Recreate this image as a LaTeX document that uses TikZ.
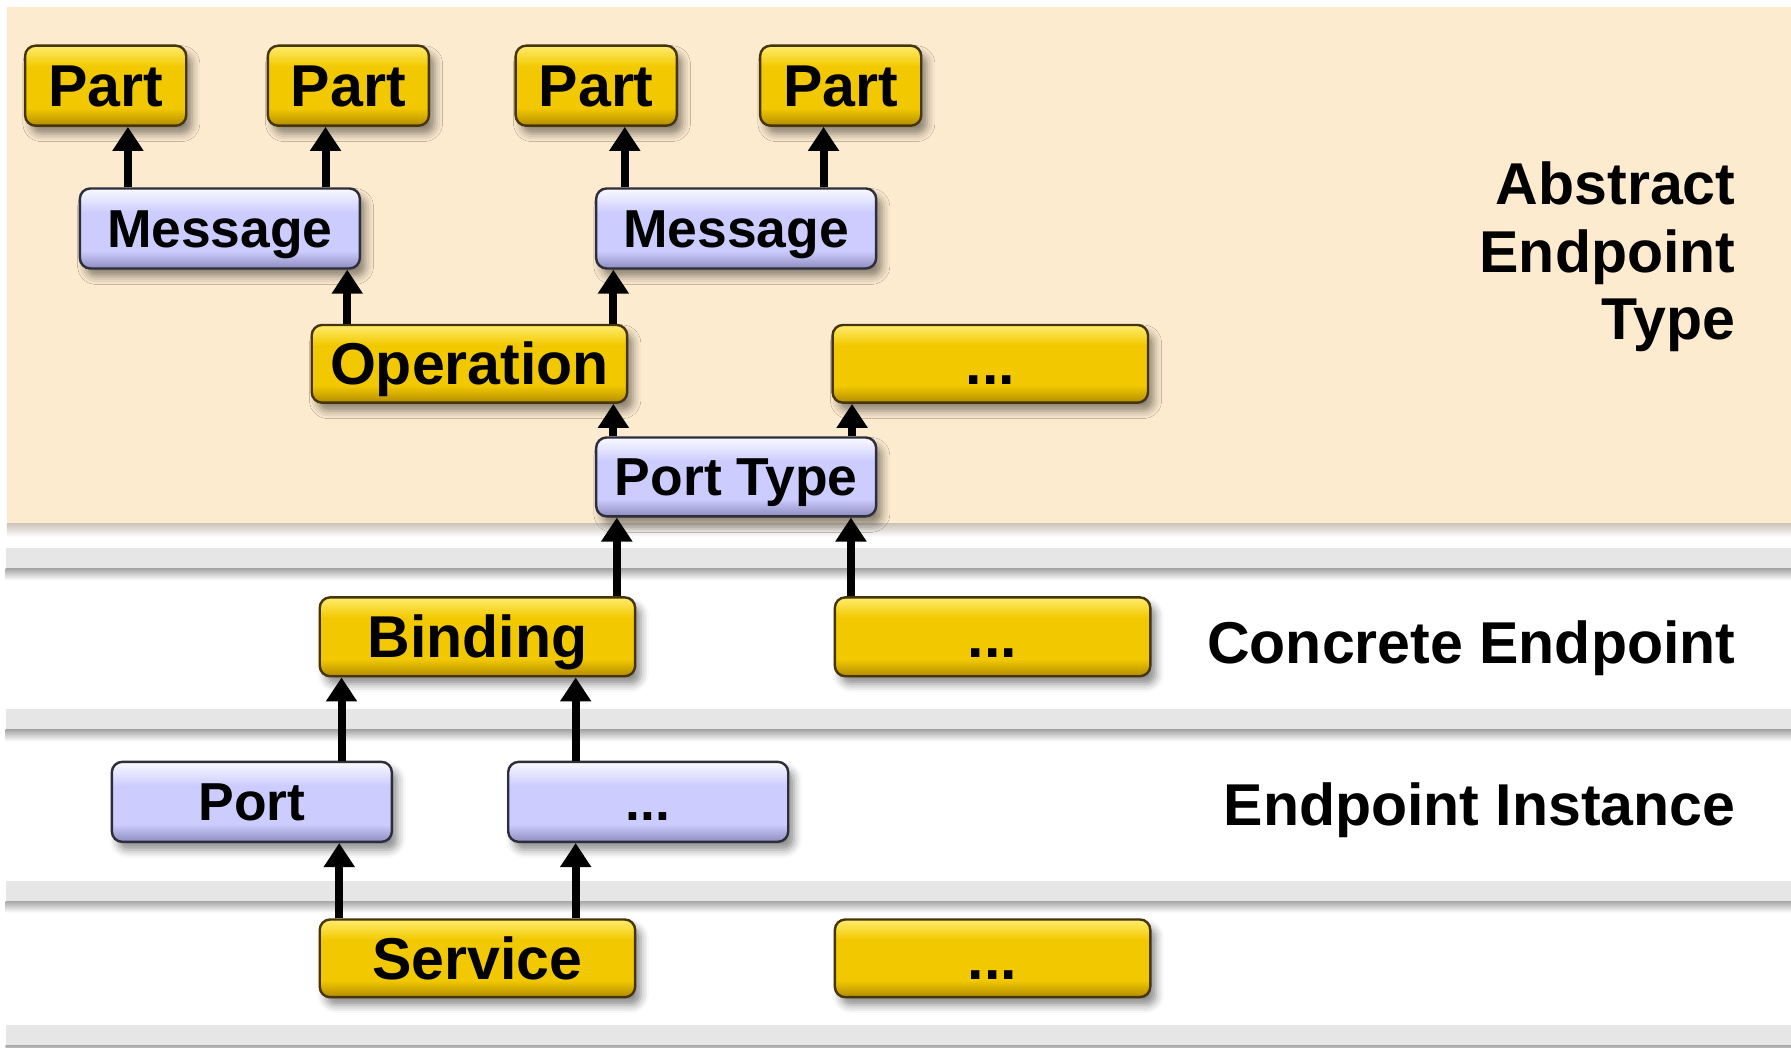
\documentclass[tikz,border=0pt]{standalone}
\usepackage{fontspec}
\setmainfont{Liberation Sans}
\usetikzlibrary{arrows.meta,shadows.blur}

\definecolor{panelbeige}{RGB}{253,235,208}
\definecolor{bandgray}{RGB}{230,230,230}
\definecolor{bandshade}{RGB}{168,168,168}
\definecolor{ylight}{RGB}{255,236,110}
\definecolor{ymid}{RGB}{242,201,0}
\definecolor{ydark}{RGB}{178,140,0}
\definecolor{yedge}{RGB}{70,52,10}
\definecolor{llight}{RGB}{250,250,255}
\definecolor{lmid}{RGB}{204,204,255}
\definecolor{ldark}{RGB}{140,140,190}
\definecolor{ledge}{RGB}{45,45,60}

% box fills: dark rim at the bottom, flat body, light rim on top
\pgfdeclareverticalshading{yellowfill}{100bp}{color(0bp)=(ydark); color(25bp)=(ydark);
  color(36bp)=(ymid); color(62bp)=(ymid); color(75bp)=(ylight); color(100bp)=(ylight)}
\pgfdeclareverticalshading{lilacfill}{100bp}{color(0bp)=(ldark); color(25bp)=(ldark);
  color(36bp)=(lmid); color(60bp)=(lmid); color(75bp)=(llight); color(100bp)=(llight)}

\tikzset{
  roundbox/.style={rounded corners=2.6pt, draw, line width=0.6pt, inner sep=0pt,
    text depth=0pt,
    blur shadow={shadow xshift=0.05cm, shadow yshift=-0.07cm,
      shadow blur radius=0.07cm, shadow opacity=45}},
  yellowbox/.style={roundbox, draw=yedge, shading=yellowfill, text height=10.5pt,
    font=\fontsize{14.7}{17}\selectfont\bfseries},
  lilacbox/.style={roundbox, draw=ledge, shading=lilacfill, text height=9.5pt,
    font=\fontsize{13.3}{16}\selectfont\bfseries},
  uparr/.style={-{Triangle[width=0.26cm,length=0.21cm]}, line width=2pt},
  layer/.style={font=\fontsize{14.7}{16.8}\selectfont\bfseries, align=right, inner sep=0pt}
}

\begin{document}
\begin{tikzpicture}[x=0.01cm, y=-0.01cm]
  \useasboundingbox (0,0) rectangle (1568,917);

  % layers
  \fill[panelbeige] (6,6) rectangle (1568,458);
  \shade[top color=bandshade!60!panelbeige, bottom color=white] (6,458) rectangle (1568,470);
  \foreach \y in {480,621,771,897} {
    \fill[bandgray] (5,\y) rectangle (1568,\y+18);
    \shade[top color=bandshade, bottom color=white] (5,\y+18) rectangle (1568,\y+28);
  }

  % abstract endpoint type
  \node[yellowbox, minimum width=1.41cm, minimum height=0.70cm] (partA) at (92.5,75) {Part};
  \node[yellowbox, minimum width=1.41cm, minimum height=0.70cm] (partB) at (305,75) {Part};
  \node[yellowbox, minimum width=1.41cm, minimum height=0.70cm] (partC) at (522,75) {Part};
  \node[yellowbox, minimum width=1.41cm, minimum height=0.70cm] (partD) at (736,75) {Part};
  \node[lilacbox, minimum width=2.45cm, minimum height=0.70cm] (msgA) at (192.5,200) {Message};
  \node[lilacbox, minimum width=2.45cm, minimum height=0.70cm] (msgB) at (644.5,200) {Message};
  \node[yellowbox, minimum width=2.76cm, minimum height=0.68cm] (oper) at (411,318.5) {Operation};
  \node[yellowbox, minimum width=2.76cm, minimum height=0.68cm] (moreA) at (867,318.5) {...};
  \node[lilacbox, minimum width=2.45cm, minimum height=0.69cm] (ptype) at (644.5,417.5) {Port Type};

  % concrete endpoint
  \node[yellowbox, minimum width=2.76cm, minimum height=0.69cm] (bind) at (418,557.5) {Binding};
  \node[yellowbox, minimum width=2.76cm, minimum height=0.69cm] (moreB) at (869,557.5) {...};

  % endpoint instance
  \node[lilacbox, minimum width=2.45cm, minimum height=0.70cm] (port) at (220.5,702) {Port};
  \node[lilacbox, minimum width=2.45cm, minimum height=0.70cm] (moreC) at (567.5,702) {...};
  \node[yellowbox, minimum width=2.76cm, minimum height=0.68cm] (serv) at (418,839) {Service};
  \node[yellowbox, minimum width=2.76cm, minimum height=0.68cm] (moreD) at (869,839) {...};

  \draw[uparr] (msgA.north -| 112,0) -- (partA.south -| 112,0);
  \draw[uparr] (msgA.north -| 285,0) -- (partB.south -| 285,0);
  \draw[uparr] (msgB.north -| 547,0) -- (partC.south -| 547,0);
  \draw[uparr] (msgB.north -| 721,0) -- (partD.south -| 721,0);
  \draw[uparr] (oper.north -| 304,0) -- (msgA.south -| 304,0);
  \draw[uparr] (oper.north -| 537,0) -- (msgB.south -| 537,0);
  \draw[uparr] (ptype.north -| 537,0) -- (oper.south -| 537,0);
  \draw[uparr] (ptype.north -| 746,0) -- (moreA.south -| 746,0);
  \draw[uparr] (bind.north -| 540,0) -- (ptype.south -| 540,0);
  \draw[uparr] (moreB.north -| 745,0) -- (ptype.south -| 745,0);
  \draw[uparr] (port.north -| 299,0) -- (bind.south -| 299,0);
  \draw[uparr] (moreC.north -| 504,0) -- (bind.south -| 504,0);
  \draw[uparr] (serv.north -| 297,0) -- (port.south -| 297,0);
  \draw[uparr] (serv.north -| 504,0) -- (moreC.south -| 504,0);

  % layer names
  \node[layer, anchor=north east] (abstract) at (1520,141) {Abstract\\Endpoint\\Type};
  \node[layer, anchor=base east] (concrete) at (1520,581) {Concrete Endpoint};
  \node[layer, anchor=base east] (instance) at (1520,723) {Endpoint Instance};
\end{tikzpicture}
\end{document}
